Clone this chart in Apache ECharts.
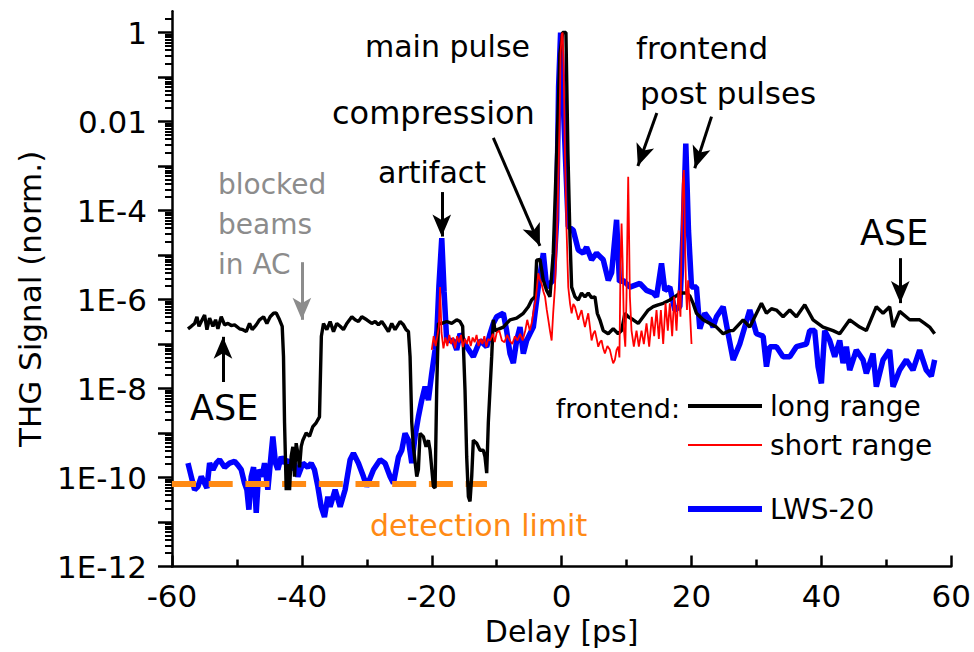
<!DOCTYPE html>
<html><head><meta charset="utf-8">
<script src="https://cdn.jsdelivr.net/npm/echarts@6/dist/echarts.min.js"></script>
<style>html,body{margin:0;padding:0;background:#fff}#c{width:974px;height:652px}</style>
</head><body><div id="c"></div>
<script>
// ---------- DATA ----------
const longX = [-57.54,-57.03,-56.52,-56.16,-55.85,-55.49,-54.98,-54.62,-54.21,-53.7,-53.29,-52.93,-52.42,-51.9,-51.39,-50.88,-50.36,-49.6,-49.08,-48.57,-48.06,-47.65,-47.03,-46.52,-45.9,-45.39,-44.88,-44.36,-43.95,-43.44,-43.03,-42.83,-42.67,-42.41,-42.15,-41.9,-41.65,-41.39,-41.13,-40.88,-40.62,-40.36,-40.1,-39.85,-39.34,-38.82,-38.31,-37.8,-37.29,-37.0,-36.67,-36.16,-35.65,-35.13,-34.62,-34.11,-33.6,-33.08,-32.31,-31.8,-31.29,-30.77,-30.01,-29.24,-28.72,-28.21,-27.7,-27.19,-26.67,-26.16,-25.65,-24.88,-24.36,-23.95,-23.59,-23.34,-23.08,-22.83,-22.31,-22.06,-21.8,-21.29,-20.88,-20.52,-20.26,-19.75,-19.49,-19.24,-18.98,-18.47,-17.7,-16.93,-16.16,-15.65,-15.24,-14.88,-14.62,-14.36,-14.11,-13.85,-13.6,-13.08,-12.57,-12.06,-11.8,-11.54,-11.29,-10.77,-10.52,-10.26,-8.98,-7.95,-6.93,-5.9,-5.13,-4.62,-4.11,-3.85,-3.34,-2.82,-2.31,-1.8,-1.29,-0.77,-0.26,0.15,0.66,0.97,1.28,1.54,2.05,2.56,3.07,3.59,4.1,4.61,5.13,5.49,5.89,6.4,7.17,7.94,8.71,9.23,9.74,10.25,11.02,11.79,12.56,13.33,14.1,14.87,15.64,16.66,17.43,18.2,19.23,19.74,20.25,20.76,21.79,22.82,23.84,24.87,25.89,26.41,27.95,28.97,30.77,31.54,32.31,33.07,34.1,35.13,36.15,37.44,38.72,40.25,41.79,42.82,44.36,45.9,46.92,48.46,49.49,50.51,51.03,52.05,53.59,55.13,55.9,56.67,57.44];
const longY = [2.2e-7,2.5e-7,2.9e-7,4.1e-7,2.5e-7,3.2e-7,4.5e-7,2.1e-7,3.8e-7,2.5e-7,3.5e-7,2.2e-7,4.1e-7,2.7e-7,2.9e-7,2.6e-7,2.7e-7,2.2e-7,2.1e-7,1.9e-7,2.9e-7,2.1e-7,2.7e-7,3.5e-7,4.1e-7,2.9e-7,4.1e-7,4.9e-7,5.0e-7,3.5e-7,2.5e-7,5.2e-8,1.7e-9,5.2e-11,2.0e-10,5.2e-11,3.0e-10,4.9e-10,1.05e-10,5.9e-10,3.5e-10,1.7e-10,5.0e-10,6.9e-10,1.0e-9,8.5e-10,1.4e-9,1.7e-9,2.3e-9,1.5e-7,2.9e-7,2.1e-7,3.2e-7,1.9e-7,2.9e-7,2.5e-7,2.1e-7,2.9e-7,4.1e-7,3.5e-7,3.2e-7,4.1e-7,3.5e-7,2.9e-7,3.2e-7,2.7e-7,3.2e-7,2.5e-7,1.9e-7,2.9e-7,2.1e-7,3.2e-7,2.7e-7,2.1e-7,1.9e-7,5.2e-8,1.7e-9,4.9e-10,1.05e-10,1.5e-10,9.8e-10,8.3e-10,4.9e-10,6.9e-10,4.1e-10,6.3e-11,5.8e-11,9.3e-9,2.9e-7,2.9e-7,3.2e-7,2.9e-7,3.5e-7,3.2e-7,2.5e-7,9.3e-9,2.9e-10,3.7e-11,2.9e-11,1.05e-10,6.9e-10,5.9e-10,4.1e-10,4.1e-10,2.9e-10,1.25e-10,1.7e-9,5.2e-8,3.5e-7,2.0e-7,2.4e-7,3.5e-7,3.8e-7,4.9e-7,6.9e-7,9.8e-7,1.15e-6,7.7e-6,8.0e-6,2.7e-6,1.6e-6,1.15e-6,1.1e-5,1.9e-3,0.34,1.0,1.0,1.9e-3,2.6e-5,1.9e-6,1.15e-6,9.8e-7,1.4e-6,1.15e-6,1.4e-6,1.1e-6,1.15e-6,4.9e-7,3.5e-7,2.0e-7,1.7e-7,2.2e-7,1.7e-7,2.0e-7,4.9e-7,4.1e-7,3.5e-7,2.9e-7,4.1e-7,5.8e-7,6.9e-7,7.6e-7,8.2e-7,9.8e-7,1.15e-6,1.4e-6,1.4e-6,1.2e-6,8.2e-7,4.9e-7,3.5e-7,2.9e-7,2.4e-7,1.7e-7,2.0e-7,2.0e-7,3.5e-7,2.4e-7,8.2e-7,4.9e-7,6.2e-7,5.8e-7,4.1e-7,5.8e-7,4.1e-7,7.6e-7,3.5e-7,2.4e-7,2.0e-7,1.7e-7,3.5e-7,2.4e-7,2.0e-7,6.9e-7,4.9e-7,6.9e-7,2.4e-7,5.4e-7,3.5e-7,3.5e-7,2.9e-7,2.4e-7,1.7e-7];

const shortX = [-20.0,-19.7,-19.4,-19.1,-18.9,-18.72,-18.5,-18.2,-17.9,-17.6,-17.3,-17.0,-16.7,-16.4,-16.1,-15.8,-15.5,-15.2,-14.9,-14.6,-14.3,-14.0,-13.7,-13.4,-13.1,-12.8,-12.5,-12.2,-11.9,-11.6,-11.3,-11.0,-10.6,-10.3,-10.0,-9.6,-9.2,-8.8,-8.4,-8.0,-7.6,-7.2,-6.8,-6.4,-6.0,-5.6,-5.3,-4.9,-4.6,-4.3,-4.0,-3.8,-3.6,-3.35,-3.1,-2.8,-2.55,-2.3,-2.05,-1.8,-1.54,-1.3,-1.03,-0.75,-0.52,-0.3,-0.16,0.0,0.15,0.3,0.51,0.75,1.02,1.3,1.54,1.8,2.05,2.3,2.56,2.8,3.07,3.35,3.59,3.85,4.1,4.35,4.61,4.87,5.13,5.4,5.64,5.9,6.15,6.4,6.66,7.05,7.43,7.7,7.94,8.2,8.46,8.71,8.9,9.07,9.23,9.4,9.6,9.8,9.99,10.12,10.25,10.38,10.51,10.76,11.12,11.53,11.89,12.3,12.66,13.07,13.48,13.89,14.25,14.61,14.97,15.28,15.64,16.0,16.35,16.66,17.02,17.33,17.69,17.99,18.3,18.5,18.65,18.82,18.98,19.15,19.3,19.48,19.74,20.0];
const shortY = [7.4e-8,1.5e-7,9e-8,1.6e-7,2.5e-7,1.9e-6,1.8e-7,8e-8,1.4e-7,9e-8,1.6e-7,1.0e-7,1.4e-7,8e-8,1.5e-7,1.1e-7,1.6e-7,8.5e-8,1.3e-7,1.0e-7,1.5e-7,9e-8,1.4e-7,1.1e-7,1.6e-7,9e-8,1.3e-7,1.0e-7,1.5e-7,8.5e-8,1.3e-7,1.2e-7,1.7e-7,1.1e-7,1.8e-7,2.0e-7,1.2e-7,1.1e-7,1.6e-7,1.2e-7,1.0e-7,1.5e-7,1.2e-7,1.7e-7,1.2e-7,2.0e-7,3.5e-7,2.0e-7,3.0e-7,5.8e-7,1.0e-6,1.9e-6,3.9e-6,2.8e-6,2.3e-6,1.5e-6,1.15e-6,6e-7,3.5e-7,2.0e-7,1.2e-7,5e-7,1.9e-6,2e-5,3.5e-4,1.5e-2,0.34,0.9,1.0,0.2,1.9e-3,4e-5,1.9e-6,8e-7,4.9e-7,8e-7,6.9e-7,5e-7,3.5e-7,4.5e-7,5.8e-7,3.5e-7,2.4e-7,3.5e-7,4.9e-7,2.5e-7,1.2e-7,1.7e-7,2.0e-7,1.3e-7,8.7e-8,1.1e-7,1.2e-7,8e-8,6.1e-8,9e-8,7.4e-8,5e-8,3.7e-8,4.4e-8,7.4e-8,8.7e-8,5e-8,6.5e-6,5.1e-5,6.5e-6,2e-7,8.7e-8,1.15e-6,3e-5,5.7e-4,3e-5,1.15e-6,2.0e-7,8.7e-8,2.0e-7,8.7e-8,2.0e-7,1.0e-7,2.9e-7,8.7e-8,4.1e-7,1.5e-7,5.8e-7,1.3e-7,5.8e-7,1.0e-7,8.2e-7,2.0e-7,8.2e-7,1.5e-7,1.15e-6,2.0e-7,1.6e-6,4.1e-7,3.6e-5,4e-4,8.1e-4,3.6e-5,1.6e-6,5.8e-7,2.7e-6,6e-7,1.0e-7];

const lwsX = [-57.54,-57.03,-56.52,-56.0,-55.49,-54.98,-54.62,-54.21,-53.7,-53.19,-52.67,-51.9,-51.13,-50.36,-49.85,-49.34,-48.83,-48.47,-48.16,-47.8,-47.44,-47.03,-46.62,-46.11,-45.75,-45.24,-44.72,-44.47,-44.06,-43.7,-43.19,-42.67,-42.16,-41.65,-41.13,-40.62,-39.85,-39.08,-38.57,-38.06,-37.54,-37.03,-36.52,-36.0,-35.65,-34.88,-34.11,-33.34,-32.57,-32.06,-31.29,-30.52,-30.01,-28.98,-27.95,-27.19,-26.42,-25.9,-25.13,-24.62,-24.11,-23.59,-23.08,-22.57,-22.06,-21.54,-21.03,-20.52,-20.0,-19.49,-19.2,-18.9,-18.46,-18.1,-17.7,-16.67,-16.16,-15.65,-14.62,-13.6,-12.57,-11.54,-11.03,-10.52,-10.0,-8.98,-8.47,-7.95,-7.44,-6.93,-6.41,-5.9,-5.39,-4.88,-4.36,-3.6,-2.82,-2.31,-1.8,-1.29,-0.77,-0.47,-0.16,0.35,1.02,1.79,2.56,3.33,3.84,4.61,5.38,6.41,7.18,7.7,8.46,8.9,9.48,10.51,12.05,13.07,14.1,14.61,15.38,15.89,16.66,17.43,18.2,18.71,19.12,19.53,20.0,20.76,21.28,22.05,22.82,23.33,23.84,24.87,25.64,26.41,27.43,28.97,30.0,31.03,31.54,32.05,33.08,34.1,35.13,36.15,37.69,38.2,38.97,39.49,40.0,40.51,41.28,42.05,42.82,43.33,43.85,44.36,45.38,46.41,46.92,47.95,48.46,49.49,50.51,51.03,52.05,53.08,54.1,55.13,56.15,56.92,57.44];
const lwsY = [2.1e-10,1.05e-10,5.3e-11,6.3e-11,1.05e-10,7.4e-11,5.8e-11,2.1e-10,1.5e-10,2.1e-10,2.5e-10,1.7e-10,2.1e-10,2.3e-10,1.9e-10,1.5e-10,7.4e-11,5.3e-11,1.9e-11,1.05e-10,1.7e-10,1.6e-11,1.5e-10,1.05e-10,2.1e-10,5.3e-11,3.5e-10,8.3e-10,2.1e-10,1.5e-10,2.9e-10,2.1e-10,2.5e-10,1.5e-10,2.1e-10,1.05e-10,2.1e-10,1.7e-10,2.1e-10,1.5e-10,6.3e-11,2.2e-11,1.3e-11,3.7e-11,2.2e-11,5.3e-11,2.2e-11,5.3e-11,2.5e-10,3.5e-10,2.1e-10,1.05e-10,6.3e-11,1.5e-10,2.5e-10,2.1e-10,1.05e-10,7.4e-11,2.9e-10,4.1e-10,9.8e-10,6.9e-10,2.1e-10,8.3e-10,2.3e-9,5.5e-9,1.1e-8,5.5e-9,2.2e-8,7.4e-8,2.0e-7,2.0e-6,2.4e-5,1.5e-6,1.2e-7,1.2e-7,7.4e-8,1.7e-7,8.7e-8,5.2e-8,1.2e-7,8.7e-8,1.7e-7,2.9e-7,4.1e-7,4.9e-7,2.0e-7,6.1e-8,3.7e-8,1.2e-7,2.4e-7,6.1e-8,1.2e-7,1.7e-7,2.4e-7,1.9e-6,1.1e-5,1.9e-6,2.3e-6,2.7e-6,6.2e-5,0.06,1.0,0.011,4.4e-5,3.6e-5,1.3e-5,1.1e-5,1.5e-5,7.8e-6,1.1e-5,7.8e-6,2.7e-6,4.0e-6,6.2e-5,2.5e-6,2.7e-6,1.9e-6,2.3e-6,1.6e-6,1.4e-6,1.15e-6,6.5e-6,1.6e-6,1.9e-6,5.8e-7,6.9e-7,3.6e-5,3.2e-3,3.6e-5,1.9e-6,1.9e-6,2.2e-7,4.9e-7,3.5e-7,2.4e-7,4.1e-7,6.9e-7,1.7e-7,4.4e-8,1.0e-7,5.8e-7,1.7e-7,1.5e-7,3.1e-8,8.7e-8,8.7e-8,5.2e-8,5.2e-8,8.7e-8,1.0e-7,2.0e-7,2.0e-7,3.1e-8,1.3e-8,2.0e-7,1.2e-7,5.2e-8,1.2e-7,3.7e-8,8.7e-8,2.6e-8,7.3e-8,4.4e-8,2.2e-8,6.1e-8,1.1e-8,4.4e-8,7.3e-8,1.1e-8,2.6e-8,4.4e-8,2.6e-8,7.3e-8,2.6e-8,1.9e-8,4.4e-8];

const detectionX = [-60, -11.5];
const detectionY = [7.1e-11, 7.1e-11];

const xTickValues = [-60, -40, -20, 0, 20, 40, 60];
const yDecades = [1e-12,1e-11,1e-10,1e-9,1e-8,1e-7,1e-6,1e-5,1e-4,1e-3,1e-2,1e-1,1];
const yLabelValues = [1e-12,1e-10,1e-8,1e-6,1e-4,1e-2,1];
const yTickLabels = ['1E-12','1E-10','1E-8','1E-6','1E-4','0.01','1'];

// annotation arrows: [x1, y1, x2, y2, colour] in data coordinates (tail -> head)
const arrows = [
  [-40, 6.9e-6, -40, 3.5e-7, '#8c8c8c'],
  [-52.15, 1.4e-8, -52.15, 1.45e-7, '#000'],
  [-18.46, 2.6e-4, -18.46, 2.6e-5, '#000'],
  [-10.52, 4.3e-3, -3.34, 1.6e-5, '#000'],
  [14.66, 0.0155, 11.74, 1.0e-3, '#000'],
  [23.08, 0.0129, 20.5, 8.9e-4, '#000'],
  [52.15, 8.5e-6, 52.15, 8.3e-7, '#000']
];

// ---------- CHART ----------
const FONT = "'DejaVu Sans', sans-serif";
const zip = (xs, ys) => xs.map((x, i) => [x, ys[i]]);

const texts = [
  {t:'main pulse', x:365, y:46, s:30, c:'#000'},
  {t:'compression', x:332, y:113, s:32, c:'#000'},
  {t:'artifact', x:378, y:172, s:30, c:'#000'},
  {t:'frontend', x:636, y:48, s:31, c:'#000'},
  {t:'post pulses', x:640, y:93, s:31, c:'#000'},
  {t:'ASE', x:860, y:233, s:35, c:'#000'},
  {t:'ASE', x:190, y:408, s:35, c:'#000'},
  {t:'blocked', x:218, y:184, s:28, c:'#8c8c8c'},
  {t:'beams', x:218, y:224, s:28, c:'#8c8c8c'},
  {t:'in AC', x:218, y:264, s:28, c:'#8c8c8c'},
  {t:'detection limit', x:370, y:525, s:30, c:'#FF8A14'},
  {t:'frontend:', x:680, y:408, s:27, c:'#000', a:'right'}
];

const legendBase = (name, top, h) => ({
  data: [name], left: 688, top: top, padding: 0, itemWidth: 74, itemHeight: h, icon: 'rect',
  textStyle: {fontSize: 28, fontFamily: FONT, color: '#000', padding: [0, 0, 0, 3]}
});

const chart = echarts.init(document.getElementById('c'), null, {renderer:'svg'});
chart.setOption({
  animation: false,
  backgroundColor: '#fff',
  grid: {left: 172, right: 22, top: 11.3, bottom: 85.5, containLabel: false},
  xAxis: {
    type: 'value', min: -60, max: 60, interval: 20,
    axisLine: {onZero: false, lineStyle: {color: '#000', width: 2.5}},
    axisTick: {inside: true, length: 11, lineStyle: {color: '#000', width: 2.5}},
    minorTick: {show: true, splitNumber: 2, length: 7, lineStyle: {color: '#000', width: 2.5}},
    splitLine: {show: false},
    axisLabel: {color: '#000', fontSize: 31, fontFamily: FONT, margin: 14,
      formatter: v => xTickValues.includes(v) ? String(v) : ''},
    name: 'Delay [ps]', nameLocation: 'middle', nameGap: 46,
    nameTextStyle: {color: '#000', fontSize: 30, fontFamily: FONT}
  },
  yAxis: {
    type: 'log', logBase: 10, min: 1e-12, max: 3, interval: 1,
    axisLine: {onZero: false, lineStyle: {color: '#000', width: 2.5}},
    axisTick: {inside: false, length: 14, customValues: yDecades, lineStyle: {color: '#000', width: 2.5}},
    minorTick: {show: true, splitNumber: 9, length: 7, lineStyle: {color: '#000', width: 2}},
    splitLine: {show: false},
    axisLabel: {color: '#000', fontSize: 31, fontFamily: FONT, margin: 25, customValues: yLabelValues,
      formatter: v => {
        const i = yLabelValues.findIndex(t => Math.abs(Math.log10(t) - Math.log10(v)) < 0.01);
        return i >= 0 ? yTickLabels[i] : '';
      }},
    name: 'THG Signal (norm.)', nameLocation: 'middle', nameGap: 127,
    nameTextStyle: {color: '#000', fontSize: 31, fontFamily: FONT, padding: [0, 20, 0, 0]}
  },
  legend: [
    legendBase('long range', 392, 4),
    legendBase('short range', 431, 2),
    legendBase('LWS-20', 495, 6)
  ],
  graphic: texts.map(o => ({
    type: 'text', x: o.x, y: o.y, silent: true,
    style: {text: o.t, fill: o.c, font: o.s + 'px ' + FONT, fontSize: o.s, fontFamily: FONT,
      align: o.a || 'left', verticalAlign: 'middle', textAlign: o.a || 'left', textVerticalAlign: 'middle'}
  })),
  series: [
    {name: 'LWS-20', type: 'line', data: zip(lwsX, lwsY), showSymbol: false, symbol: 'none',
      lineStyle: {color: '#0000FF', width: 5.5}, itemStyle: {color: '#0000FF'}},
    {name: 'detection limit', type: 'line', data: zip(detectionX, detectionY), showSymbol: false, symbol: 'none',
      lineStyle: {color: '#FF8A14', width: 6, type: [24, 12.7]}, itemStyle: {color: '#FF8A14'}},
    {name: 'long range', type: 'line', data: zip(longX, longY), showSymbol: false, symbol: 'none',
      lineStyle: {color: '#000', width: 3.4}, itemStyle: {color: '#000'},
      markLine: {
        silent: true, animation: false, symbol: ['none', 'arrow'], symbolSize: [14, 22],
        label: {show: false}, lineStyle: {color: '#000', width: 3, type: 'solid'},
        data: arrows.map(a => [
          {coord: [a[0], a[1]], lineStyle: {color: a[4], width: 3, type: 'solid'}, itemStyle: {color: a[4]}},
          {coord: [a[2], a[3]]}
        ])
      }},
    {name: 'short range', type: 'line', data: zip(shortX, shortY), showSymbol: false, symbol: 'none',
      lineStyle: {color: '#FF0000', width: 1.8}, itemStyle: {color: '#FF0000'}}
  ]
});
</script></body></html>
